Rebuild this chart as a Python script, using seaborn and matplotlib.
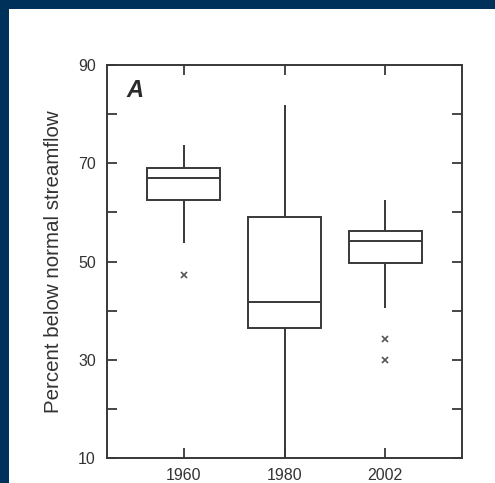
import matplotlib
matplotlib.use("Agg")
import matplotlib.pyplot as plt
from matplotlib import font_manager
from matplotlib.patches import Rectangle
import numpy as np
import pandas as pd
import seaborn as sns

# Values: each list gives the whisker ends, quartiles,
# median and outliers of one year (repeats keep the quartiles where they are)
years = ["1960", "1980", "2002"]
vals_1960 = [47.3, 53.8, 62.5, 62.5, 66.9, 69.1, 69.1, 73.8, 73.8]
vals_1980 = [10.0, 36.5, 41.8, 59.0, 81.9]
vals_2002 = [30.0, 34.2, 40.5, 49.7, 49.7, 49.7, 54.1, 56.2, 56.2, 56.2, 62.5, 62.5, 62.5]
y_ticks = [10, 20, 30, 40, 50, 60, 70, 80, 90]
y_labels = ["10", "", "30", "", "50", "", "70", "", "90"]

df = pd.DataFrame({
    "year": ["1960"] * len(vals_1960) + ["1980"] * len(vals_1980) + ["2002"] * len(vals_2002),
    "percent": vals_1960 + vals_1980 + vals_2002,
})

sns.set_theme(style="white")
plt.rcParams["font.family"] = ["Liberation Sans", "DejaVu Sans"]

# narrow face for the tick numbers if there is one
installed = {f.name for f in font_manager.fontManager.ttflist}
if "Liberation Sans Narrow" in installed:
    tick_font = dict(family="Liberation Sans Narrow", size=13.5)
else:
    tick_font = dict(family="Liberation Sans", size=11.5)

navy = "#00315a"
ink = "#383838"

fig = plt.figure(figsize=(4.95, 4.83), dpi=100)
fig.patch.set_facecolor(navy)
# white panel inside the navy frame
panel = Rectangle((9 / 495, 0), 1, 474 / 483, transform=fig.transFigure,
                  facecolor="white", edgecolor="none", zorder=-10)
fig.add_artist(panel)

ax = fig.add_axes([107 / 495, 25 / 483, 355 / 495, 393 / 483])
ax.set_facecolor("white")

sns.boxplot(data=df, x="year", y="percent", order=years, ax=ax, width=0.72,
            whis=1.5, color="white", linecolor=ink, linewidth=1.4, showcaps=False,
            flierprops=dict(marker="x", markersize=4, markeredgecolor="#555555",
                            markeredgewidth=1.2))

ax.set_xlim(-0.76, 2.76)
ax.set_ylim(10, 90)
ax.set_yticks(y_ticks)
ax.set_yticklabels(y_labels)
ax.set_xlabel("")
ax.set_ylabel("Percent below normal streamflow", fontsize=14.8, color="#333333", labelpad=11)

for lab in ax.get_xticklabels() + ax.get_yticklabels():
    lab.set_family(tick_font["family"])
    lab.set_fontsize(tick_font["size"])
    lab.set_color("#333333")

ax.tick_params(axis="both", which="both", direction="in", length=7, width=1.3,
               color=ink, top=True, right=True, bottom=True, left=True)
ax.tick_params(axis="y", pad=8)
ax.tick_params(axis="x", pad=7)

for s in ax.spines.values():
    s.set_visible(True)
    s.set_color(ink)
    s.set_linewidth(1.4)

ax.text(0.079, 0.934, "A", transform=ax.transAxes, fontsize=17, fontweight="bold",
        fontstyle="italic", color="#2a2a2a", va="center", ha="center")

fig.savefig("out.png", dpi=100, facecolor=navy)
